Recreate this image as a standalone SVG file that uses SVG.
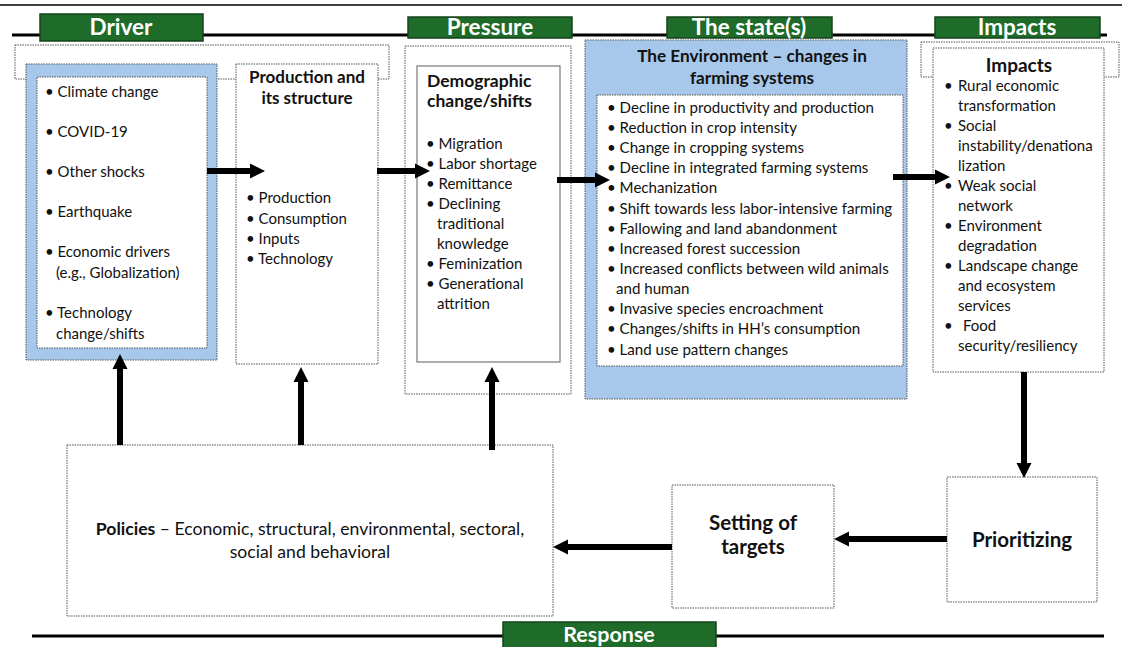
<svg xmlns="http://www.w3.org/2000/svg" width="1127" height="647" viewBox="0 0 1127 647">
<style>
  text { font-family: Lato, "Open Sans", "Liberation Sans", sans-serif; fill: #111; }
  .hdr rect { fill: #1f6b2a; stroke: #16431b; stroke-width: 1.5; }
  .hdr text { fill: #fff; font-weight: bold; font-size: 22.5px; text-anchor: middle; }
  .dot { fill: #fff; stroke: #555; stroke-width: 1; stroke-dasharray: 1.5 1; }
  .blue { fill: #a7c8ea; stroke: #555; stroke-width: 1; stroke-dasharray: 1.5 1; }
  .solid { fill: #fff; stroke: #777; stroke-width: 1.2; }
  .t { font-size: 15px; }
  .b { font-weight: bold; font-size: 17px; }
  .c { text-anchor: middle; }
  .rule { stroke: #000; }
  .arr { stroke: #000; stroke-width: 6; fill: none; marker-end: url(#ah); }
</style>
<defs>
  <marker id="ah" markerUnits="userSpaceOnUse" markerWidth="16" markerHeight="16" viewBox="0 0 16 16" refX="3" refY="8" orient="auto">
    <path d="M0,0.5 L15,8 L0,15.5 z" fill="#000"/>
  </marker>
</defs>
<g id="rules">
  <line class="rule" x1="0" y1="5" x2="1122" y2="5" stroke-width="1.5"/>
  <line class="rule" x1="12" y1="35" x2="1107" y2="35" stroke-width="3"/>
  <line class="rule" x1="32" y1="636" x2="1104" y2="636" stroke-width="3"/>
</g>
<g id="header-driver" class="hdr"><rect x="40" y="14" width="163" height="27"/><text x="121" y="35">Driver</text></g>
<g id="header-pressure" class="hdr"><rect x="408" y="17" width="164" height="21"/><text x="490" y="35">Pressure</text></g>
<g id="header-state" class="hdr"><rect x="667" y="17" width="165" height="21"/><text x="749" y="35">The state(s)</text></g>
<g id="header-impacts" class="hdr"><rect x="935" y="17" width="165" height="21"/><text x="1017" y="35">Impacts</text></g>
<g id="header-response" class="hdr"><rect x="503" y="622" width="213" height="30"/><text x="609" y="642" style="font-size:21.5px">Response</text></g>

<g id="driver-frame"><rect class="dot" x="15" y="45" width="374" height="34"/></g>
<g id="driver">
  <rect class="blue" x="26" y="64" width="191" height="296"/>
  <rect class="dot" x="37" y="77" width="170" height="271"/>
  <g class="t">
    <text x="45" y="97">• Climate change</text>
    <text x="45" y="137">• COVID-19</text>
    <text x="45" y="177">• Other shocks</text>
    <text x="45" y="217">• Earthquake</text>
    <text x="45" y="257">• Economic drivers</text>
    <text x="56" y="278">(e.g., Globalization)</text>
    <text x="45" y="318">• Technology</text>
    <text x="56" y="339">change/shifts</text>
  </g>
</g>
<g id="production">
  <rect class="dot" x="236" y="64" width="142" height="300"/>
  <text class="b c" x="307" y="83">Production and</text>
  <text class="b c" x="307" y="104">its structure</text>
  <g class="t">
    <text x="246" y="203">• Production</text>
    <text x="246" y="224">• Consumption</text>
    <text x="246" y="244">• Inputs</text>
    <text x="246" y="264">• Technology</text>
  </g>
</g>
<g id="pressure">
  <rect class="dot" x="405" y="46" width="166" height="348"/>
  <rect class="solid" x="417" y="66" width="143" height="296"/>
  <text class="b" x="427" y="87" style="font-size:17.5px">Demographic</text>
  <text class="b" x="427" y="107" style="font-size:17.5px">change/shifts</text>
  <g class="t">
    <text x="426" y="149">• Migration</text>
    <text x="426" y="169">• Labor shortage</text>
    <text x="426" y="189">• Remittance</text>
    <text x="426" y="209">• Declining</text>
    <text x="437" y="229">traditional</text>
    <text x="437" y="249">knowledge</text>
    <text x="426" y="269">• Feminization</text>
    <text x="426" y="289">• Generational</text>
    <text x="437" y="309">attrition</text>
  </g>
</g>
<g id="state">
  <rect class="blue" x="585" y="40" width="322" height="359"/>
  <text class="b c" x="752" y="62" style="font-size:17.2px">The Environment – changes in</text>
  <text class="b c" x="752" y="84" style="font-size:17.2px">farming systems</text>
  <rect class="dot" x="597" y="95" width="306" height="271"/>
  <g class="t" style="font-size:15.1px">
    <text x="607" y="113">• Decline in productivity and production</text>
    <text x="607" y="133">• Reduction in crop intensity</text>
    <text x="607" y="153">• Change in cropping systems</text>
    <text x="607" y="173">• Decline in integrated farming systems</text>
    <text x="607" y="193">• Mechanization</text>
    <text x="607" y="214">• Shift towards less labor-intensive farming</text>
    <text x="607" y="234">• Fallowing and land abandonment</text>
    <text x="607" y="254">• Increased forest succession</text>
    <text x="607" y="274">• Increased conflicts between wild animals</text>
    <text x="616" y="294">and human</text>
    <text x="607" y="314">• Invasive species encroachment</text>
    <text x="607" y="334">• Changes/shifts in HH’s consumption</text>
    <text x="607" y="355">• Land use pattern changes</text>
  </g>
</g>
<g id="impacts-frame"><rect class="dot" x="921" y="42" width="198" height="35"/></g>
<g id="impacts">
  <rect class="dot" x="933" y="48" width="171" height="324"/>
  <text class="c" x="1019" y="72" style="font-weight:bold;font-size:19px">Impacts</text>
  <g class="t">
    <text x="944" y="91">•</text><text x="958" y="91">Rural economic</text>
    <text x="958" y="111">transformation</text>
    <text x="944" y="131">•</text><text x="958" y="131">Social</text>
    <text x="958" y="151">instability/denationa</text>
    <text x="958" y="171">lization</text>
    <text x="944" y="191">•</text><text x="958" y="191">Weak social</text>
    <text x="958" y="211">network</text>
    <text x="944" y="231">•</text><text x="958" y="231">Environment</text>
    <text x="958" y="251">degradation</text>
    <text x="944" y="271">•</text><text x="958" y="271">Landscape change</text>
    <text x="958" y="291">and ecosystem</text>
    <text x="958" y="311">services</text>
    <text x="944" y="331">•</text><text x="963" y="331">Food</text>
    <text x="958" y="351">security/resiliency</text>
  </g>
</g>
<g id="policies">
  <rect class="dot" x="67" y="445" width="486" height="171"/>
  <text class="c" x="310" y="535" style="font-size:17.6px"><tspan font-weight="bold">Policies</tspan> – Economic, structural, environmental, sectoral,</text>
  <text class="c" x="310" y="558" style="font-size:17.6px">social and behavioral</text>
</g>
<g id="setting">
  <rect class="dot" x="672" y="485" width="162" height="123"/>
  <text class="b c" x="753" y="530" style="font-size:20.5px">Setting of</text>
  <text class="b c" x="753" y="554" style="font-size:20.5px">targets</text>
</g>
<g id="prioritizing">
  <rect class="dot" x="947" y="477" width="150" height="125"/>
  <text class="b c" x="1022" y="547" style="font-size:20.5px">Prioritizing</text>
</g>
<g id="connectors">
  <line class="arr" x1="207" y1="171" x2="253" y2="171"/>
  <line class="arr" x1="377" y1="171" x2="418" y2="171"/>
  <line class="arr" x1="557" y1="180" x2="598" y2="180"/>
  <line class="arr" x1="893" y1="177" x2="938" y2="177"/>
  <line class="arr" x1="120" y1="445" x2="120" y2="366"/>
  <line class="arr" x1="301" y1="445" x2="301" y2="379"/>
  <line class="arr" x1="492" y1="450" x2="492" y2="379"/>
  <line class="arr" x1="1024" y1="372" x2="1024" y2="466"/>
  <line class="arr" x1="947" y1="539" x2="846" y2="539"/>
  <line class="arr" x1="672" y1="547" x2="565" y2="547"/>
</g>
</svg>
